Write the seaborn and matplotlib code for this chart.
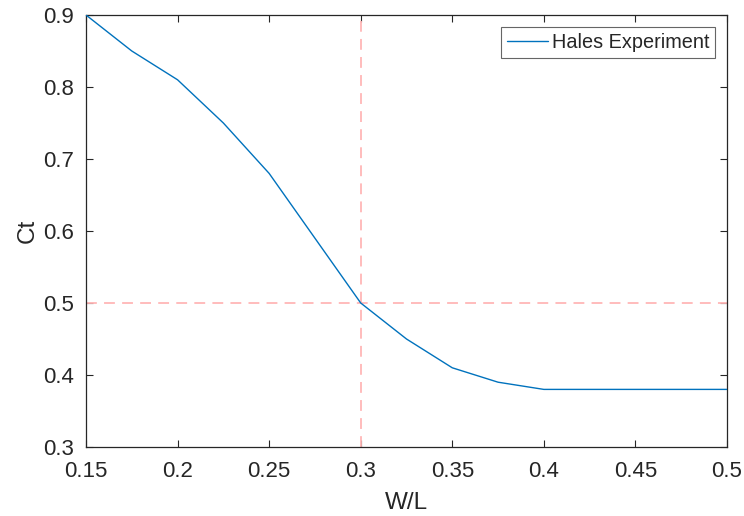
import matplotlib
matplotlib.use("Agg")
import matplotlib.pyplot as plt
import seaborn as sns
import pandas as pd

w_over_l = [0.15, 0.175, 0.2, 0.225, 0.25, 0.3, 0.325, 0.35, 0.375, 0.4, 0.45, 0.5]
ct = [0.9, 0.85, 0.81, 0.75, 0.68, 0.5, 0.45, 0.41, 0.39, 0.38, 0.38, 0.38]
x_ticks = [0.15, 0.2, 0.25, 0.3, 0.35, 0.4, 0.45, 0.5]
x_tick_labels = ["0.15", "0.2", "0.25", "0.3", "0.35", "0.4", "0.45", "0.5"]
y_ticks = [0.3, 0.4, 0.5, 0.6, 0.7, 0.8, 0.9]
y_tick_labels = ["0.3", "0.4", "0.5", "0.6", "0.7", "0.8", "0.9"]
ref_x = 0.3
ref_y = 0.5

sns.set_style("white")
plt.rcParams["font.family"] = ["Liberation Sans", "DejaVu Sans"]

df = pd.DataFrame({"W/L": w_over_l, "Ct": ct})

fig = plt.figure(figsize=(7.44, 5.16), dpi=100)
ax = fig.add_axes([86 / 744, 1 - 447 / 516, (727 - 86) / 744, (447 - 15) / 516])

ax.axvline(ref_x, color="#ffb6b6", linestyle=(0, (6, 4)), linewidth=1.3, zorder=1)
ax.axhline(ref_y, color="#ffb6b6", linestyle=(0, (6, 4)), linewidth=1.3, zorder=1)
sns.lineplot(data=df, x="W/L", y="Ct", ax=ax, color="#0072BD", linewidth=1.0,
             label="Hales Experiment", zorder=3)

ax.set_xlim(0.15, 0.5)
ax.set_ylim(0.3, 0.9)
ax.set_xticks(x_ticks)
ax.set_xticklabels(x_tick_labels)
ax.set_yticks(y_ticks)
ax.set_yticklabels(y_tick_labels)
ax.tick_params(direction="in", length=5, width=0.8, colors="#262626",
               labelsize=16, top=True, right=True, bottom=True, left=True,
               labelcolor="#262626")
ax.tick_params(axis="x", pad=10)
ax.tick_params(axis="y", pad=9)
for s in ax.spines.values():
    s.set_visible(True)
    s.set_color("#262626")
    s.set_linewidth(0.9)
ax.set_xlabel("W/L", fontsize=17.5, color="#262626", labelpad=7)
ax.set_ylabel("Ct", fontsize=17.5, color="#262626", labelpad=3)

leg = ax.legend(loc="upper right", fontsize=14.3, frameon=True, fancybox=False,
                edgecolor="#404040", handlelength=2.05, borderpad=0.3,
                handletextpad=0.2, borderaxespad=0.6)
leg.get_frame().set_linewidth(0.8)

fig.savefig("out.png", dpi=100)
